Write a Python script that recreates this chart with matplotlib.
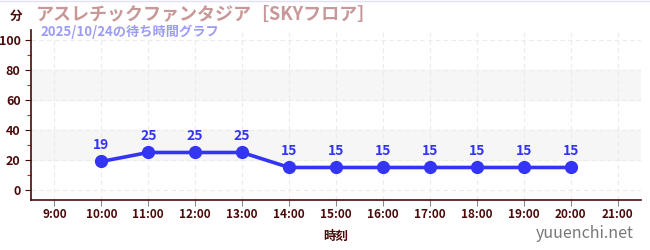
import matplotlib.pyplot as plt

plt.rcParams['font.family'] = ['Noto Sans CJK JP', 'DejaVu Sans']

# data
hours = [10, 11, 12, 13, 14, 15, 16, 17, 18, 19, 20]
wait_minutes = [19, 25, 25, 25, 15, 15, 15, 15, 15, 15, 15]
tick_hours = list(range(9, 22))
tick_labels = [f'{h}:00' for h in tick_hours]

axis_col = '#4a0a0a'
line_col = '#3434f5'

fig = plt.figure(figsize=(6.5, 2.5), dpi=100)
ax = fig.add_axes([31 / 650, 50 / 250, 610 / 650, 170 / 250])

ax.set_xlim(8.5, 21.5)
ax.set_ylim(-6.7, 106.7)

# background bands
for lo, hi in [(20, 40), (60, 80)]:
    ax.axhspan(lo, hi, color='#f6f6f6', zorder=0)

ax.set_yticks(range(0, 101, 20))
ax.set_yticks(range(10, 101, 20), minor=True)
ax.set_xticks(tick_hours)
ax.set_xticklabels(tick_labels)
ax.grid(True, which='major', color='#ebebeb', linestyle=(0, (4, 3)), linewidth=0.8)

ax.tick_params(axis='y', which='major', colors=axis_col, labelsize=9, length=4, width=0.8)
ax.tick_params(axis='y', which='minor', colors='#cc2222', length=3, width=0.8)
ax.tick_params(axis='x', colors=axis_col, labelsize=8.5, length=4, width=0.8, pad=2)
for lab in ax.get_xticklabels() + ax.get_yticklabels():
    lab.set_fontweight('bold')
    lab.set_color(axis_col)
ax.tick_params(axis='x', color='#888888')

for s in ['top', 'right']:
    ax.spines[s].set_visible(False)
for s in ['left', 'bottom']:
    ax.spines[s].set_color(axis_col)
    ax.spines[s].set_linewidth(1.2)

ax.plot(hours, wait_minutes, color=line_col, linewidth=2.6, marker='o',
        markersize=8.5, zorder=3, clip_on=False)
for h, v in zip(hours, wait_minutes):
    ax.annotate(str(v), (h, v), xytext=(0, 7), textcoords='offset points',
                ha='center', va='bottom', color=line_col, fontsize=10,
                fontweight='bold')

ax.set_xlabel('時刻', color=axis_col, fontsize=9, fontweight='bold', labelpad=6)

fig.text(10 / 650, 1 - 16 / 250, '分', color=axis_col, fontsize=9,
         fontweight='bold', va='center')
fig.text(36 / 650, 1 - 15 / 250, 'アスレチックファンタジア［SKYフロア］',
         color='#c89898', fontsize=13, fontweight='bold', va='center')
fig.text(40 / 650, 1 - 32 / 250, '2025/10/24の待ち時間グラフ',
         color='#9c9cf5', fontsize=9.5, fontweight='bold', va='center')
fig.text(634 / 650, 1 - 233 / 250, 'yuuenchi.net', color='#777777',
         fontsize=11.5, ha='right', va='center')
fig.add_artist(plt.Line2D([0, 1], [0.998, 0.998], color='#e0e0f8', linewidth=1))

fig.savefig('out.png', dpi=100)
